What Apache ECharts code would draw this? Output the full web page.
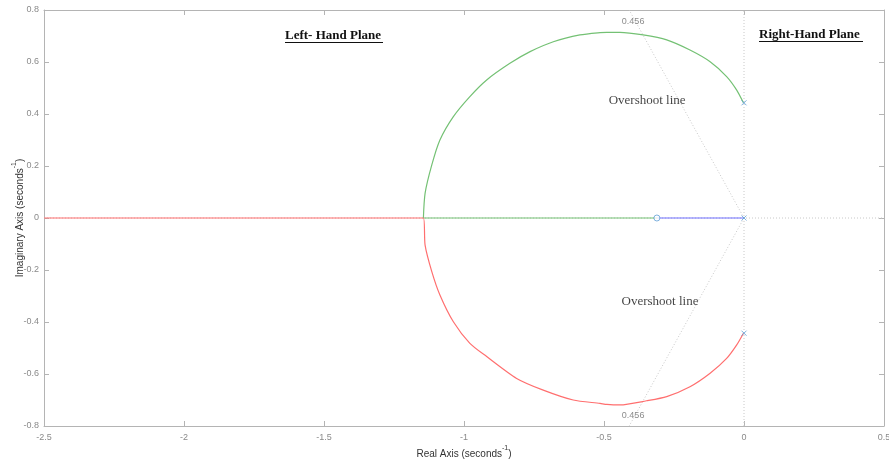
<!DOCTYPE html>
<html>
<head>
<meta charset="utf-8">
<script src="https://cdn.jsdelivr.net/npm/echarts@6/dist/echarts.min.js"></script>
<style>html,body{margin:0;padding:0;background:#fff}#c{width:889px;height:462px}</style>
</head>
<body>
<div id="c"></div>
<script>
// ---- data ----
var xTicks = [-2.5, -2, -1.5, -1, -0.5, 0, 0.5];
var yTicks = [-0.8, -0.6, -0.4, -0.2, 0, 0.2, 0.4, 0.6, 0.8];

// upper branch (green): complex pole -> arc -> break-in -> along real axis to zero
var greenX = [-0.002, -0.026, -0.062, -0.121, -0.193, -0.276, -0.36, -0.443, -0.49, -0.514, -0.586, -0.681, -0.764, -0.836, -0.919, -0.979, -1.038, -1.086, -1.115, -1.139, -1.145, -0.311];
var greenY = [0.443, 0.492, 0.544, 0.601, 0.646, 0.685, 0.704, 0.714, 0.714, 0.713, 0.704, 0.678, 0.64, 0.595, 0.531, 0.467, 0.39, 0.3, 0.204, 0.095, 0, 0];

// lower branch (red): complex pole -> arc -> break-in -> along real axis to -inf
var redX = [-0.002, -0.026, -0.062, -0.121, -0.193, -0.276, -0.348, -0.443, -0.49, -0.514, -0.61, -0.717, -0.812, -0.919, -0.979, -1.038, -1.086, -1.115, -1.139, -1.145, -2.5];
var redY = [-0.443, -0.488, -0.54, -0.597, -0.649, -0.687, -0.703, -0.719, -0.717, -0.713, -0.7, -0.662, -0.617, -0.533, -0.482, -0.399, -0.296, -0.206, -0.104, 0, 0];

// real pole at origin (blue) -> zero
var blueX = [0, -0.311];
var blueY = [0, 0];

var polesX = [0, 0, 0];
var polesY = [0.443, -0.443, 0];
var zerosX = [-0.311];
var zerosY = [0];

// constant damping (zeta = 0.456) guide lines
var zetaLabel = '0.456';
var zetaUpX = [0, -0.41];
var zetaUpY = [0, 0.8];
var zetaDnX = [0, -0.41];
var zetaDnY = [0, -0.8];
var zetaLabelPos = [[-0.396, 0.754], [-0.396, -0.758]];

var overshootText = 'Overshoot line';
var overshootPos = [[-0.346, 0.45], [-0.3, -0.323]];

function zip(a, b) { return a.map(function (v, i) { return [v, b[i]]; }); }

var axisCol = '#b4b4b4';
var labCol = '#8a8a8a';
var dotCol = '#c8c8c8';

var nameStyle = {
  color: '#333', fontFamily: 'Liberation Sans', fontSize: 10,
  rich: {
    b: {fontSize: 10, lineHeight: 14, verticalAlign: 'bottom', color: '#333', fontFamily: 'Liberation Sans'},
    sup: {fontSize: 7, lineHeight: 9, verticalAlign: 'top', color: '#333', fontFamily: 'Liberation Sans'}
  }
};

var chart = echarts.init(document.getElementById('c'), null, {renderer: 'canvas'});

var option = {
  animation: false,
  backgroundColor: '#fff',
  grid: {left: 44, right: 5, top: 10, bottom: 36, containLabel: false, outerBoundsMode: 'none'},
  xAxis: [{
    type: 'value', min: -2.5, max: 0.5, interval: 0.5,
    name: '{b|Real Axis (seconds}{sup|-1}{b|)}', nameLocation: 'middle', nameGap: 19, nameMoveOverlap: false,
    nameTextStyle: nameStyle,
    axisLine: {show: true, onZero: false, lineStyle: {color: axisCol, width: 1}},
    axisTick: {show: true, inside: true, length: 5, lineStyle: {color: axisCol}},
    axisLabel: {color: labCol, fontFamily: 'Liberation Sans', fontSize: 9, margin: 7,
      formatter: function (v) { return xTicks.indexOf(v) >= 0 ? String(v) : ''; }},
    splitLine: {show: false}
  }, {
    type: 'value', min: -2.5, max: 0.5, interval: 0.5, position: 'top',
    axisLine: {show: true, onZero: false, lineStyle: {color: axisCol, width: 1}},
    axisTick: {show: true, inside: true, length: 5, lineStyle: {color: axisCol}},
    axisLabel: {show: false}, splitLine: {show: false}
  }],
  yAxis: [{
    type: 'value', min: -0.8, max: 0.8, interval: 0.2,
    name: '{b|Imaginary Axis (seconds}{sup|-1}{b|)}', nameLocation: 'middle', nameGap: 19, nameRotate: 90,
    nameMoveOverlap: false,
    nameTextStyle: nameStyle,
    axisLine: {show: true, onZero: false, lineStyle: {color: axisCol, width: 1}},
    axisTick: {show: true, inside: true, length: 5, lineStyle: {color: axisCol}},
    axisLabel: {color: labCol, fontFamily: 'Liberation Sans', fontSize: 9, margin: 5,
      formatter: function (v) { var r = Math.round(v * 10) / 10; return String(r); }},
    splitLine: {show: false}
  }, {
    type: 'value', min: -0.8, max: 0.8, interval: 0.2, position: 'right',
    axisLine: {show: true, onZero: false, lineStyle: {color: axisCol, width: 1}},
    axisTick: {show: true, inside: true, length: 5, lineStyle: {color: axisCol}},
    axisLabel: {show: false}, splitLine: {show: false}
  }],
  series: [
    // dotted guide lines (imaginary axis, real axis, zeta lines)
    {type: 'line', data: [[0, -0.8], [0, 0.8]], showSymbol: false, silent: true,
      lineStyle: {color: dotCol, width: 1, type: [1, 2]}, z: 1},
    {type: 'line', data: [[-2.5, 0], [0.5, 0]], showSymbol: false, silent: true,
      lineStyle: {color: dotCol, width: 1, type: [1, 2]}, z: 1},
    {type: 'line', data: zip(zetaUpX, zetaUpY), showSymbol: false, silent: true,
      lineStyle: {color: dotCol, width: 1, type: [1, 2]}, z: 1},
    {type: 'line', data: zip(zetaDnX, zetaDnY), showSymbol: false, silent: true,
      lineStyle: {color: dotCol, width: 1, type: [1, 2]}, z: 1},
    // locus branches
    {type: 'line', data: zip(greenX, greenY), showSymbol: false, smooth: 0.25,
      lineStyle: {color: '#74c174', width: 1.2}, z: 3},
    {type: 'line', data: zip(redX, redY), showSymbol: false, smooth: 0.25,
      lineStyle: {color: '#ff6f6f', width: 1.2}, z: 3},
    {type: 'line', data: zip(blueX, blueY), showSymbol: false,
      lineStyle: {color: '#6f6fff', width: 1.2}, z: 4},
    // poles (x) and zero (o)
    {type: 'scatter', data: zip(polesX, polesY), symbol: 'path://M0,0L10,10M10,0L0,10', symbolSize: 5,
      itemStyle: {color: 'none', borderColor: '#5f9fd6', borderWidth: 1}, z: 5},
    {type: 'scatter', data: zip(zerosX, zerosY), symbol: 'circle', symbolSize: 6,
      itemStyle: {color: '#fff', borderColor: '#5f9fd6', borderWidth: 1}, z: 5},
    // zeta labels
    {type: 'scatter', data: zetaLabelPos, symbolSize: 0, silent: true,
      label: {show: true, position: 'inside', formatter: zetaLabel, color: '#6e6e6e',
        fontFamily: 'Liberation Sans', fontSize: 9}, z: 6},
    // overshoot annotations
    {type: 'scatter', data: overshootPos, symbolSize: 0, silent: true,
      label: {show: true, position: 'inside', formatter: overshootText, color: '#111',
        fontFamily: 'Liberation Serif', fontSize: 13}, z: 6}
  ],
  graphic: [
    {type: 'text', left: 285, top: 29, style: {text: 'Left- Hand Plane', fill: '#111',
      font: 'bold 13px "Liberation Serif"'}, z: 10},
    {type: 'rect', shape: {x: 285, y: 42, width: 98, height: 1}, style: {fill: '#111'}, z: 10},
    {type: 'text', left: 759, top: 28, style: {text: 'Right-Hand Plane', fill: '#111',
      font: 'bold 13px "Liberation Serif"'}, z: 10},
    {type: 'rect', shape: {x: 759, y: 41, width: 104, height: 1}, style: {fill: '#111'}, z: 10}
  ]
};
chart.setOption(option);
</script>
</body>
</html>
